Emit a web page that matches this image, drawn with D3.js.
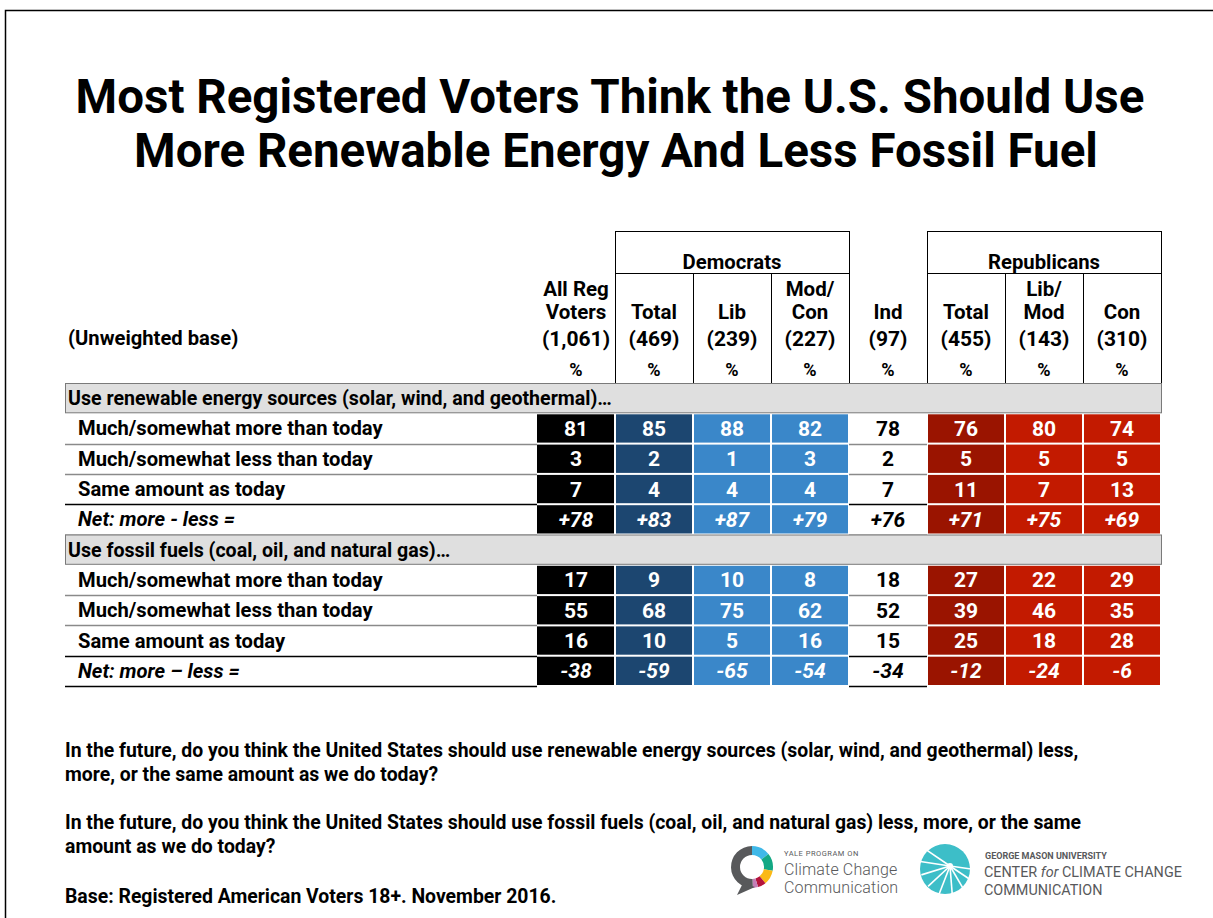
<!DOCTYPE html>
<html>
<head>
<meta charset="utf-8">
<script src="https://cdn.jsdelivr.net/npm/d3@7"></script>
<style>
  body { margin: 0; background: #fff; }
  svg { display: block; font-family: Roboto, "Noto Sans", sans-serif; }
</style>
</head>
<body>
<div id="chart"></div>
<script>
// Table data
const columns = ["all", "demTotal", "demLib", "demModCon", "ind", "repTotal", "repLibMod", "repCon"];
const headerTop = ["All Reg", "", "", "Mod/", "", "", "Lib/", ""];
const headerBottom = ["Voters", "Total", "Lib", "Con", "Ind", "Total", "Mod", "Con"];
const bases = ["(1,061)", "(469)", "(239)", "(227)", "(97)", "(455)", "(143)", "(310)"];
const groups = [
  { name: "Democrats", from: "demTotal", to: "demModCon" },
  { name: "Republicans", from: "repTotal", to: "repCon" }
];
const answerLabels = ["Much/somewhat more than today", "Much/somewhat less than today", "Same amount as today"];

const renewableValues = [
  [81, 85, 88, 82, 78, 76, 80, 74],
  [3, 2, 1, 3, 2, 5, 5, 5],
  [7, 4, 4, 4, 7, 11, 7, 13]
];
const renewableNet = [78, 83, 87, 79, 76, 71, 75, 69];

const fossilValues = [
  [17, 9, 10, 8, 18, 27, 22, 29],
  [55, 68, 75, 62, 52, 39, 46, 35],
  [16, 10, 5, 16, 15, 25, 18, 28]
];
const fossilNet = [-38, -59, -65, -54, -34, -12, -24, -6];

const sections = [
  { title: "Use renewable energy sources (solar, wind, and geothermal)…", values: renewableValues, net: renewableNet, netLabel: "Net: more - less =" },
  { title: "Use fossil fuels (coal, oil, and natural gas)…", values: fossilValues, net: fossilNet, netLabel: "Net: more – less =" }
];

const cellColors = {
  all: "#000000", demTotal: "#1c4670", demLib: "#3a87c9", demModCon: "#3a87c9",
  ind: "#ffffff", repTotal: "#9a1400", repLibMod: "#c31a00", repCon: "#c31a00"
};

const footnotes = [
  ["In the future, do you think the United States should use renewable energy sources (solar, wind, and geothermal) less,",
   "more, or the same amount as we do today?"],
  ["In the future, do you think the United States should use fossil fuels (coal, oil, and natural gas) less, more, or the same",
   "amount as we do today?"],
  ["Base: Registered American Voters 18+. November 2016."]
];

const width = 1213, height = 918;
const svg = d3.select("#chart").append("svg")
  .attr("width", width)
  .attr("height", height);

// page frame
svg.append("rect")
  .attr("x", 5.5).attr("y", 10.5)
  .attr("width", 1400).attr("height", 1200)
  .attr("fill", "none").attr("stroke", "#000").attr("stroke-width", 1.5);

// title
const title = svg.append("text")
  .attr("text-anchor", "middle")
  .attr("font-weight", "bold")
  .attr("font-size", 47.5)
  .attr("fill", "#000");
title.append("tspan").attr("x", 610).attr("y", 113).text("Most Registered Voters Think the U.S. Should Use");
title.append("tspan").attr("x", 616).attr("y", 167).text("More Renewable Energy And Less Fossil Fuel");

// scales
const labelLeft = 65;
const x = d3.scaleBand().domain(columns).range([537, 1161]).padding(0);
const rowKeys = [];
sections.forEach((s, si) => {
  rowKeys.push(`s${si}`);
  answerLabels.forEach((a, ai) => rowKeys.push(`s${si}r${ai}`));
  rowKeys.push(`s${si}net`);
});
const y = d3.scaleBand().domain(rowKeys).range([383, 686]).padding(0);
const rowH = y.bandwidth();

// header boxes and lines
const head = svg.append("g").attr("stroke", "#000").attr("stroke-width", 1);
groups.forEach(g => {
  const x0 = x(g.from), x1 = x(g.to) + x.bandwidth();
  head.append("line").attr("x1", x0).attr("x2", x1).attr("y1", 231.5).attr("y2", 231.5);
  head.append("line").attr("x1", x0).attr("x2", x1).attr("y1", 273.5).attr("y2", 273.5);
  svg.append("text")
    .attr("x", (x0 + x1) / 2).attr("y", 269)
    .attr("text-anchor", "middle").attr("font-weight", "bold").attr("font-size", 20.3)
    .text(g.name);
});
// vertical lines in header area
columns.forEach((c, i) => {
  const xr = x(c) + x.bandwidth();
  const tall = ["all", "demModCon", "ind", "repCon"].includes(c);
  head.append("line")
    .attr("x1", Math.round(xr) + 0.5).attr("x2", Math.round(xr) + 0.5)
    .attr("y1", tall ? 231 : 273).attr("y2", 383);
});

// header texts
const hdr = svg.append("g").attr("font-weight", "bold").attr("font-size", 20.5).attr("text-anchor", "middle").attr("fill", "#000");
columns.forEach((c, i) => {
  const cx = x(c) + x.bandwidth() / 2;
  if (headerTop[i]) hdr.append("text").attr("x", cx).attr("y", 296).text(headerTop[i]);
  hdr.append("text").attr("x", cx).attr("y", 319).text(headerBottom[i]);
  hdr.append("text").attr("x", cx).attr("y", 346).attr("font-size", 21).text(bases[i]);
  hdr.append("text").attr("x", cx).attr("y", 376).attr("font-size", 18).text("%");
});
svg.append("text")
  .attr("x", 68).attr("y", 345)
  .attr("font-weight", "bold").attr("font-size", 20.2)
  .text("(Unweighted base)");

// body
const body = svg.append("g");
sections.forEach((s, si) => {
  // section header
  const sy = y(`s${si}`);
  body.append("rect")
    .attr("x", labelLeft + 0.5).attr("y", sy + 0.5)
    .attr("width", 1161 - labelLeft).attr("height", rowH - 1)
    .attr("fill", "#dfdfdf").attr("stroke", "#7a7a7a").attr("stroke-width", 1);
  body.append("text")
    .attr("x", 68).attr("y", sy + rowH / 2 + 7)
    .attr("font-weight", "bold").attr("font-size", 19.6)
    .text(s.title);

  const rows = s.values.map((vals, ai) => ({ key: `s${si}r${ai}`, label: answerLabels[ai], vals, net: false }));
  rows.push({ key: `s${si}net`, label: s.netLabel, vals: s.net, net: true });

  rows.forEach((r, ri) => {
    const ry = y(r.key);
    // row label
    body.append("text")
      .attr("x", 78).attr("y", ry + rowH / 2 + 7)
      .attr("font-weight", "bold").attr("font-size", 20.2)
      .attr("font-style", r.net ? "italic" : "normal")
      .text(r.label);
    // bottom rule under label and Ind cell
    const dark = r.net || ri === rows.length - 2;
    [[labelLeft, 537], [x("ind"), x("ind") + x.bandwidth()]].forEach(([a, b]) => {
      body.append("line")
        .attr("x1", a).attr("x2", b)
        .attr("y1", Math.round(ry + rowH) + 0.5).attr("y2", Math.round(ry + rowH) + 0.5)
        .attr("stroke", dark ? "#000" : "#8a8a8a").attr("stroke-width", 1.5);
    });
    // cells
    columns.forEach((c, ci) => {
      const v = r.vals[ci];
      if (c !== "ind") {
        body.append("rect")
          .attr("x", x(c) + (ci === 0 ? 0 : 1)).attr("y", ry + 1)
          .attr("width", x.bandwidth() - (ci === 0 ? 1 : 2)).attr("height", rowH - 2)
          .attr("fill", cellColors[c]);
      }
      const txt = r.net ? (v > 0 ? "+" + v : String(v)) : String(v);
      body.append("text")
        .attr("x", x(c) + x.bandwidth() / 2).attr("y", ry + rowH / 2 + 7.5)
        .attr("text-anchor", "middle")
        .attr("font-weight", "bold").attr("font-size", 21)
        .attr("font-style", r.net ? "italic" : "normal")
        .attr("fill", c === "ind" ? "#000" : "#fff")
        .text(txt);
    });
  });
});

// footnotes
const foot = svg.append("g").attr("font-weight", "bold").attr("font-size", 19.4).attr("fill", "#000");
const footY = [[757, 781], [829, 853], [903]];
footnotes.forEach((lines, i) => {
  lines.forEach((line, j) => {
    foot.append("text").attr("x", 65).attr("y", footY[i][j]).text(line);
  });
});

// Yale logo
const yale = svg.append("g").attr("transform", "translate(752,867)");
const ring = d3.arc().innerRadius(12).outerRadius(21);
const segs = [
  { a0: 0, a1: 0.9, c: "#3fb8e8" },
  { a0: 0.9, a1: 1.75, c: "#14a884" },
  { a0: 1.75, a1: 2.45, c: "#fbb916" },
  { a0: 2.45, a1: 2.85, c: "#b4143c" },
  { a0: 2.85, a1: 3.1, c: "#c47db6" },
  { a0: 3.1, a1: 2 * Math.PI, c: "#58595b" }
];
segs.forEach(s => yale.append("path").attr("d", ring({ startAngle: s.a0, endAngle: s.a1 })).attr("fill", s.c));
yale.append("path").attr("d", "M-9,16 L-15,28 L3,20 Z").attr("fill", "#58595b");
const yt = svg.append("g").attr("fill", "#58595b");
yt.append("text").attr("x", 784).attr("y", 856).attr("font-size", 7.5).attr("letter-spacing", 0.5).text("YALE PROGRAM ON");
yt.append("text").attr("x", 784).attr("y", 875).attr("font-size", 16).attr("font-weight", 300).attr("letter-spacing", 0.15).text("Climate Change");
yt.append("text").attr("x", 784).attr("y", 893).attr("font-size", 16).attr("font-weight", 300).attr("letter-spacing", 0.15).text("Communication");

// George Mason logo
const gmu = svg.append("g").attr("transform", "translate(945,869)");
gmu.append("circle").attr("r", 25).attr("fill", "#3dbec8");
d3.range(9).forEach(i => {
  const ang = -0.6 + i * 0.45;
  gmu.append("path")
    .attr("d", `M0,0 L${-30 * Math.cos(ang)},${30 * Math.sin(ang)}`)
    .attr("stroke", "#fff").attr("stroke-width", 1.6).attr("transform", "translate(5,-3)");
});
gmu.append("circle").attr("cx", 5).attr("cy", -3).attr("r", 3).attr("fill", "#fff");
const gt = svg.append("g").attr("fill", "#58595b");
gt.append("text").attr("x", 985).attr("y", 859).attr("font-size", 9).attr("font-weight", "bold").text("GEORGE MASON UNIVERSITY");
const cline = gt.append("text").attr("x", 984).attr("y", 877).attr("font-size", 14.4);
cline.append("tspan").text("CENTER ");
cline.append("tspan").attr("font-style", "italic").text("for");
cline.append("tspan").text(" CLIMATE CHANGE");
gt.append("text").attr("x", 984).attr("y", 895).attr("font-size", 14.4).text("COMMUNICATION");
</script>
</body>
</html>
